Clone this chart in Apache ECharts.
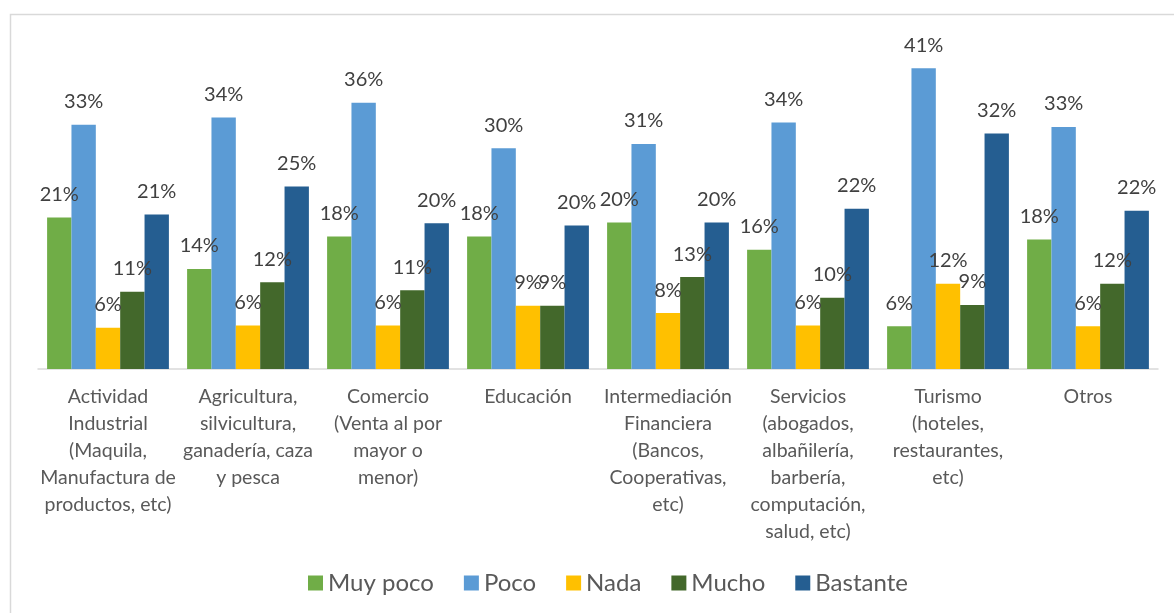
<!DOCTYPE html>
<html>
<head>
<meta charset="utf-8">
<script src="https://cdn.jsdelivr.net/npm/echarts@6/dist/echarts.min.js"></script>
<style>html,body{margin:0;padding:0;background:#fff}#c{width:1174px;height:613px}</style>
</head>
<body>
<div id="c"></div>
<script>
const categories = [
  'Actividad\nIndustrial\n(Maquila,\nManufactura de\nproductos, etc)',
  'Agricultura,\nsilvicultura,\nganadería, caza\ny pesca',
  'Comercio\n(Venta al por\nmayor o\nmenor)',
  'Educación',
  'Intermediación\nFinanciera\n(Bancos,\nCooperativas,\netc)',
  'Servicios\n(abogados,\nalbañilería,\nbarbería,\ncomputación,\nsalud, etc)',
  'Turismo\n(hoteles,\nrestaurantes,\netc)',
  'Otros'
];
const seriesNames = ['Muy poco', 'Poco', 'Nada', 'Mucho', 'Bastante'];
const muyPoco  = [20.6, 13.6, 18.0, 18.0, 19.9, 16.2, 5.8, 17.6];
const poco     = [33.2, 34.2, 36.2, 30.0, 30.6, 33.5, 40.9, 32.9];
const nada     = [5.6, 5.9, 5.9, 8.6, 7.6, 5.9, 11.6, 5.8];
const mucho    = [10.5, 11.8, 10.7, 8.6, 12.5, 9.7, 8.7, 11.6];
const bastante = [21.0, 24.8, 19.8, 19.5, 19.9, 21.8, 32.0, 21.5];
const colors = ['#70AD47', '#5B9BD5', '#FFC000', '#43682B', '#255E91'];
const allData = [muyPoco, poco, nada, mucho, bastante];

const FONT = 'Lato';
const chart = echarts.init(document.getElementById('c'), null, {renderer: 'canvas'});
chart.setOption({
  animation: false,
  backgroundColor: '#fff',
  graphic: [{
    type: 'rect', left: 8, top: 12, shape: {width: 1190, height: 640},
    style: {fill: 'none', stroke: '#d9d9d9', lineWidth: 1.5}, silent: true, z: -1
  }],
  grid: {left: 38, right: 16, top: 38, bottom: 244, containLabel: false},
  legend: {
    data: seriesNames, top: 566, left: 303,
    itemWidth: 15, itemHeight: 15, itemGap: 30, icon: 'rect',
    textStyle: {fontFamily: FONT, fontSize: 24, color: '#595959'}
  },
  xAxis: {
    type: 'category', data: categories,
    axisLine: {lineStyle: {color: '#d9d9d9', width: 1.5}},
    axisTick: {show: false},
    axisLabel: {interval: 0, margin: 14, fontFamily: FONT, fontSize: 19.5, lineHeight: 27, color: '#595959'}
  },
  yAxis: {type: 'value', min: 0, max: 45, show: false, splitLine: {show: false}},
  series: allData.map((d, i) => ({
    name: seriesNames[i], type: 'bar', data: d,
    barGap: '0%', barCategoryGap: '13%',
    itemStyle: {color: colors[i]},
    label: {
      show: true, position: 'top', distance: 13,
      fontFamily: FONT, fontSize: 20, color: '#404040',
      formatter: p => Math.round(p.value) + '%'
    }
  }))
});
</script>
</body>
</html>
